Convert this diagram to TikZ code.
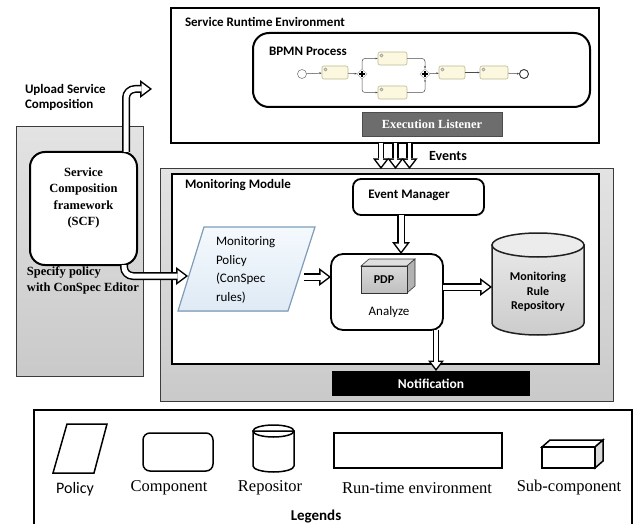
\documentclass[tikz,border=0pt]{standalone}
\usepackage{fontspec}
\setmainfont{Liberation Serif}
\newfontfamily\carl{Carlito}
\usetikzlibrary{arrows.meta,shapes.geometric,calc}
\definecolor{policytop}{HTML}{F4F9FD}
\definecolor{policybot}{HTML}{DFEAF5}
\definecolor{policyline}{HTML}{7F9DB9}
\definecolor{taskfill}{HTML}{FBF8DF}
\definecolor{taskline}{HTML}{BDB88E}
\definecolor{listener}{HTML}{6D6D6D}
\definecolor{boxedge}{HTML}{3C3C3C}
\begin{document}
\begin{tikzpicture}[x=1pt,y=-1pt,
  every node/.style={inner sep=0pt,outer sep=0pt},
  harrow/.style={line width=5pt, white,
    -{Triangle[length=8pt,width=12pt,line width=0pt]}, shorten >=2.5pt,
    preaction={draw=black, line width=8pt,
      -{Triangle[length=12pt,width=18pt,line width=0pt]}, shorten >=0pt}},
  harrowsmall/.style={line width=3.6pt, white,
    -{Triangle[length=6.5pt,width=10pt,line width=0pt]}, shorten >=2.5pt,
    preaction={draw=black, line width=6.6pt,
      -{Triangle[length=10.5pt,width=16pt,line width=0pt]}, shorten >=0pt}},
  envbox/.style={draw=black, line width=2pt, fill=white},
  comp/.style={draw=black, line width=1.8pt, fill=white},
  graybox/.style={draw=boxedge, line width=1pt, top color=gray!22, bottom color=gray!42},
  task/.style={draw=taskline, fill=taskfill, rounded corners=2pt, line width=0.6pt,
    minimum width=26pt, minimum height=13pt},
  gate/.style={diamond, draw=gray!60, fill=white, line width=0.5pt, minimum size=10pt},
  flow/.style={draw=gray!60!black, line width=0.5pt, -{Latex[length=2.5pt,width=2pt]}},
  lblb/.style={font=\carl\bfseries\fontsize{13}{15.5}\selectfont},
  lgd/.style={draw=black, line width=1.5pt},
  lgdtxt/.style={font=\fontsize{16.5}{19}\selectfont}
]
\useasboundingbox (0,0) rectangle (643,524);
\fill[white] (0,0) rectangle (643,524);

% ---------------- Service runtime environment ----------------
\node[envbox, minimum width=428pt, minimum height=135pt] (rt) at (385,75.5) {};
\node[lblb, anchor=west] (rtlbl) at (185,22) {Service Runtime Environment};
\node[envbox, rounded corners=16pt, minimum width=337pt, minimum height=74pt] (bp) at (421.5,70) {};
\node[lblb, anchor=west] (bplbl) at (269,51) {BPMN Process};

% BPMN mini process
\node[circle, draw=gray, line width=0.6pt, minimum size=9pt] (s0) at (302,74) {};
\node[task] (t1) at (335,72.5) {};
\node[gate] (g1) at (362,74) {};
\node[task, minimum width=29pt] (t2) at (392.5,58.5) {};
\node[task, minimum width=29pt] (t3) at (392.5,92.5) {};
\node[gate] (g2) at (425,74) {};
\node[task] (t4) at (452,72.5) {};
\node[task, minimum width=28pt] (t5) at (494,72.5) {};
\node[circle, draw=black!80, line width=0.9pt, minimum size=9pt] (e0) at (524,74) {};
\foreach \t in {t1,t2,t3,t4,t5}
  \draw[gray, line width=0.4pt, fill=gray!30] ([shift={(3.5pt,-3.5pt)}]\t.north west) circle (1.6pt);
\foreach \g in {g1,g2}
  \draw[line width=1.1pt] ([xshift=-3pt]\g.center) -- ([xshift=3pt]\g.center)
                          ([yshift=-3pt]\g.center) -- ([yshift=3pt]\g.center);
\draw[flow] (s0) -- (t1);
\draw[flow] (t1) -- (g1);
\draw[flow, rounded corners=3pt] (g1) |- (t2);
\draw[flow, rounded corners=3pt] (g1) |- (t3);
\draw[flow, rounded corners=3pt] (t2) -| (g2);
\draw[flow, rounded corners=3pt] (t3) -| (g2);
\draw[flow] (g2) -- (t4);
\draw[flow] (t4) -- (t5);
\draw[flow] (t5) -- (e0);

\node[draw=black!70, fill=listener, minimum width=140pt, minimum height=24pt,
      text=white, font=\bfseries\fontsize{12.4}{15}\selectfont] (el) at (432,124) {Execution Listener};

% ---------------- left SCF box ----------------
\node[graybox, minimum width=127pt, minimum height=249pt] (left) at (79.5,251.5) {};
\node[comp, line width=2pt, rounded corners=15pt, minimum width=107pt, minimum height=113pt] (scf) at (83.5,208.5) {};
\node[align=center, font=\bfseries\fontsize{12.5}{16.3}\selectfont] (scftxt) at (83.5,198)
  {Service\\Composition\\framework\\(SCF)};
\node[lblb, align=left, anchor=west] (uplbl) at (25,97.5) {Upload Service\\Composition};
\node[align=left, anchor=west, font=\bfseries\fontsize{12.5}{16}\selectfont] (splbl) at (27,280)
  {Specify policy\\with ConSpec Editor};

% ---------------- Monitoring module ----------------
\node[graybox, minimum width=453pt, minimum height=232pt] (mmo) at (386.5,285) {};
\node[envbox, minimum width=427pt, minimum height=190pt] (mmi) at (385.5,269) {};
\node[lblb, anchor=west] (mmlbl) at (185,185) {Monitoring Module};

\node[comp, rounded corners=8pt, minimum width=131pt, minimum height=36pt] (em) at (418.5,197) {};
\node[lblb] (emtxt) at (409,195.5) {Event Manager};

\node[comp, rounded corners=12pt, minimum width=112pt, minimum height=76pt] (an) at (387,292) {};
\node[font=\carl\fontsize{13}{15}\selectfont] (antxt) at (389,312) {Analyze};

% PDP cube
\filldraw[draw=gray!40!black, line width=0.6pt, fill=gray!25] (361,266) -- (369,259) -- (415,259) -- (407,266) -- cycle;
\filldraw[draw=gray!40!black, line width=0.6pt, fill=gray!60] (407,266) -- (415,259) -- (415,286) -- (407,293) -- cycle;
\node[draw=gray!40!black, line width=0.6pt, top color=gray!30, bottom color=gray!50,
      minimum width=46pt, minimum height=27pt, font=\carl\bfseries\fontsize{12}{14}\selectfont] (pdp) at (384,279.5) {PDP};

% Policy parallelogram
\filldraw[draw=policyline, line width=1.2pt, top color=policytop, bottom color=policybot]
  (204,227) -- (315,227) -- (288,311) -- (178,311) -- cycle;
\node[align=left, anchor=west, font=\carl\fontsize{13}{18.5}\selectfont] (policy) at (216,270)
  {Monitoring\\Policy\\(ConSpec\\rules)};

% Repository cylinder
\filldraw[draw=gray!25!black, line width=1.5pt, top color=gray!18, bottom color=gray!40]
  (492,245) -- (492,323) .. controls (492,329.6) and (512.6,335) .. (538,335)
  .. controls (563.4,335) and (584,329.6) .. (584,323) -- (584,245) -- cycle;
\filldraw[draw=gray!25!black, line width=1.5pt, fill=gray!15] (538,245) ellipse[x radius=46pt, y radius=12pt];
\node[align=center, font=\carl\bfseries\fontsize{12}{14.5}\selectfont,
      minimum width=92pt, minimum height=90pt] (repo) at (538,292)
  {Monitoring\\Rule\\Repository};

\node[fill=black, minimum width=198pt, minimum height=25pt, text=white,
      font=\carl\bfseries\fontsize{13.5}{16}\selectfont] (note) at (431,383.5) {Notification};

% ---------------- connectors ----------------
\coordinate (ev1) at (381,0);
\coordinate (ev2) at (395.5,0);
\coordinate (ev3) at (409.5,0);
\draw[harrowsmall] (rt.south -| ev1) -- (mmo.north -| ev1);
\draw[harrowsmall] (rt.south -| ev2) -- (mmo.north -| ev2);
\draw[harrowsmall] (rt.south -| ev3) -- (mmo.north -| ev3);
\node[font=\carl\bfseries\fontsize{14}{16}\selectfont] (evlbl) at (448,156) {Events};

\coordinate (upx) at (126,0);
\coordinate (uptip) at (152,89);
\draw[harrow, rounded corners=9pt] (scf.north -| upx) -- (upx |- uptip) -- (uptip);

\coordinate (spx) at (124,0);
\coordinate (sptip) at (188,276);
\draw[harrow, rounded corners=9pt] (scf.south -| spx) -- (spx |- sptip) -- (sptip);

\coordinate (ax) at (401,0);
\draw[harrow] (em.south -| ax) -- (an.north -| ax);

\coordinate (polR) at (304,277);
\draw[harrow] (polR) -- (an.west |- polR);

\coordinate (ry) at (0,287);
\draw[harrow] (an.east |- ry) -- (repo.west |- ry);

\coordinate (nx) at (436,0);
\draw[harrowsmall] (an.south -| nx) -- (note.north -| nx);

% ---------------- legend ----------------
\draw[line width=1.8pt] (34,530) -- (34,410) -- (632,410) -- (632,530);
\draw[lgd] (67,424) -- (107,424) -- (94,473) -- (53,473) -- cycle;
\node[lgd, rounded corners=7pt, minimum width=70pt, minimum height=38pt] (lcomp) at (178,452) {};
\filldraw[lgd, fill=white] (253,431) -- (253,466) .. controls (253,469.3) and (262.2,472) .. (273.5,472)
  .. controls (284.8,472) and (294,469.3) .. (294,466) -- (294,431) -- cycle;
\draw[lgd] (273.5,431) ellipse[x radius=20.5pt, y radius=6pt];
\node[lgd, minimum width=168pt, minimum height=35pt] (lrt) at (418,450.5) {};
\draw[lgd, fill=white] (542,447) -- (550,440) -- (603,440) -- (595,447) -- cycle;
\draw[lgd, fill=gray!30] (595,447) -- (603,440) -- (603,461) -- (595,468) -- cycle;
\node[lgd, minimum width=53pt, minimum height=21pt] (lsub) at (568.5,457.5) {};

\node[font=\carl\fontsize{16}{18}\selectfont] (l1) at (75,489) {Policy};
\node[lgdtxt] (l2) at (169,488) {Component};
\node[lgdtxt] (l3) at (270,488) {Repositor};
\node[lgdtxt] (l4) at (417,488) {Run-time environment};
\node[lgdtxt] (l5) at (569,488) {Sub-component};
\node[font=\carl\bfseries\fontsize{15}{17}\selectfont] (lg) at (316,517) {Legends};
\end{tikzpicture}
\end{document}
